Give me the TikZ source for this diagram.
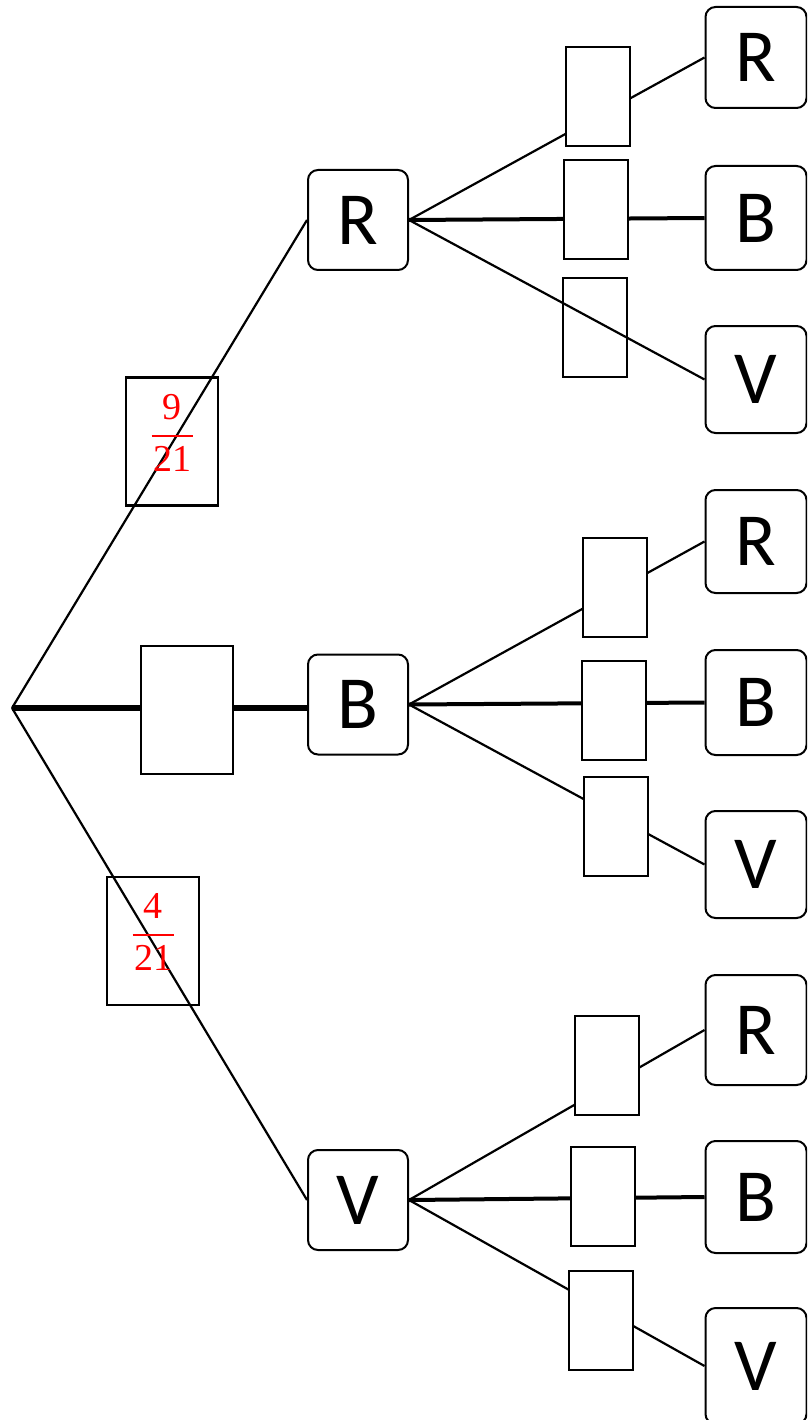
\documentclass[tikz,border=0pt]{standalone}
\usepackage{amsmath}
\usepackage{fontspec}
\usepackage{unicode-math}
\newfontfamily\letterfont{Carlito}
\newfontfamily\fracfont{Liberation Serif}
\newcommand{\myfr}[2]{\raisebox{-3.5pt}[0pt][0pt]{$\genfrac{}{}{2pt}{0}{\mbox{\fracfont #1}}{\mbox{\fracfont\hspace{1.5pt}#2\hspace{1.5pt}}}$}}
\begin{document}
\begin{tikzpicture}[x=1pt,y=-1pt,
  lvl/.style={draw, rounded corners=10pt, line width=2pt, minimum width=100pt, minimum height=100pt, inner sep=0pt, font=\letterfont\fontsize{75}{80}\selectfont},
  leaf/.style={lvl, minimum width=101pt},
  lab/.style={draw, line width=2.2pt, inner sep=0pt, minimum width=64pt, minimum height=99pt, fill=white},
  labopen/.style={draw, line width=2.2pt, inner sep=0pt, minimum width=64pt, minimum height=99pt},
  biglab/.style={draw, line width=2.2pt, inner sep=0pt, minimum width=92pt, minimum height=128pt, text=red, font=\fontsize{38}{42}\selectfont},
  thinedge/.style={line width=2.2pt},
  midedge/.style={line width=4pt},
  thickedge/.style={line width=6.5pt}]
\useasboundingbox (0,0) rectangle (807,1420);
\clip (0,0) rectangle (807,1420);
\coordinate (root) at (12,708);
% level 1
\node[lvl] (R) at (358,220) {R};
\node[lvl] (B) at (358,704.5) {B};
\node[lvl] (V) at (358,1200) {V};
% leaves
\node[leaf, minimum height=101pt] (RR) at (756,57.5) {R};
\node[leaf, minimum height=104pt] (RB) at (756,218) {B};
\node[leaf, minimum height=107pt] (RV) at (756,379.5) {V};
\node[leaf, minimum height=103pt] (BR) at (756,541.5) {R};
\node[leaf, minimum height=105pt] (BB) at (756,702.5) {B};
\node[leaf, minimum height=107pt] (BV) at (756,864.5) {V};
\node[leaf, minimum height=110pt] (VR) at (756,1030) {R};
\node[leaf, minimum height=112pt] (VB) at (756,1197) {B};
\node[leaf, minimum height=116pt] (VV) at (756,1366) {V};
% edges
\draw[thinedge] (root) -- (R.west);
\draw[thickedge] (root) -- (root -| B.west);
\draw[thinedge] (root) -- (V.west);
\draw[thinedge] (R.east) -- (RR.west);
\draw[midedge] (R.east) -- (RB.west);
\draw[thinedge] (R.east) -- (RV.west);
\draw[thinedge] (B.east) -- (BR.west);
\draw[midedge] (B.east) -- (BB.west);
\draw[thinedge] (B.east) -- (BV.west);
\draw[thinedge] (V.east) -- (VR.west);
\draw[midedge] (V.east) -- (VB.west);
\draw[thinedge] (V.east) -- (VV.west);
% edge labels
\node[biglab] (lR) at (172,441.5) {\myfr{9}{21}};
\node[biglab, fill=white] (lB) at (187,710) {};
\node[biglab] (lV) at (153,941) {\myfr{4}{21}};
\node[lab] (lRR) at (598,96.5) {};
\node[lab] (lRB) at (596,209.5) {};
\node[labopen] (lRV) at (595,327.5) {};
\node[lab] (lBR) at (615,587.5) {};
\node[lab] (lBB) at (614,710.5) {};
\node[lab] (lBV) at (616,826.5) {};
\node[lab] (lVR) at (607,1065.5) {};
\node[lab] (lVB) at (603,1196.5) {};
\node[lab] (lVV) at (601,1320.5) {};
\end{tikzpicture}
\end{document}
